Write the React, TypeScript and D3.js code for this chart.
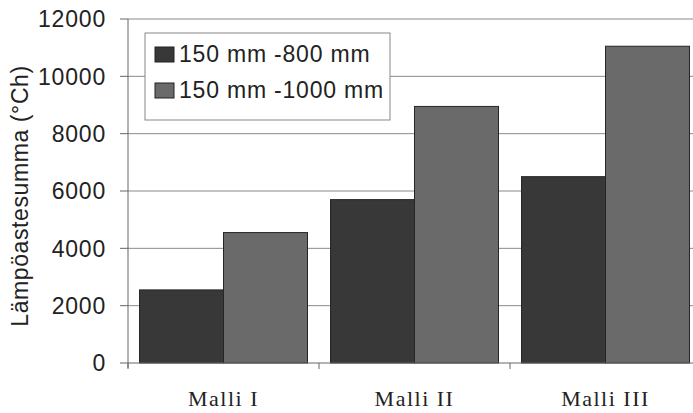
import React from "react";
import * as d3 from "d3";

const categories = ["Malli I", "Malli II", "Malli III"];
const seriesNames = ["150 mm -800 mm", "150 mm -1000 mm"];
const series800 = [2550, 5700, 6500];
const series1000 = [4550, 8950, 11050];
const yTicks = [0, 2000, 4000, 6000, 8000, 10000, 12000];
const yTitle = "Lämpöastesumma (°Ch)";

const W = 693;
const H = 413;
const colors = ["#383838", "#6a6a6a"];

export default function App() {
  const left = 128;
  const right = 701;
  const top = 19;
  const bottom = 363;

  const x = d3.scaleBand<string>().domain(categories).range([left, right]).paddingInner(0).paddingOuter(0);
  const xs = d3.scaleBand<string>().domain(seriesNames).range([0, x.bandwidth()]).paddingInner(0).paddingOuter(0.137);
  const y = d3.scaleLinear().domain([0, 12000]).range([bottom, top]);
  const values = [series800, series1000];
  const sans = "Arial, 'Liberation Sans', Helvetica, sans-serif";
  const serif = "'Times New Roman', 'Liberation Serif', serif";

  const boundaries = categories.map((c) => x(c)!).concat([right]);

  return (
    <svg width={W} height={H} style={{ position: "absolute", left: 0, top: 0, background: "#fff" }}>
      {/* gridlines */}
      {yTicks.filter((t) => t > 0).map((t) => (
        <line key={t} x1={left} x2={W} y1={y(t)} y2={y(t)} stroke="#8a8a8a" strokeWidth={1} />
      ))}
      {/* bars */}
      {categories.map((c, i) =>
        seriesNames.map((s, j) => (
          <rect
            key={c + s}
            x={x(c)! + xs(s)!}
            y={y(values[j][i])}
            width={xs.bandwidth()}
            height={bottom - y(values[j][i])}
            fill={colors[j]}
            stroke="#262626"
            strokeWidth={1}
          />
        ))
      )}
      {/* axes */}
      <line x1={left} x2={left} y1={top} y2={bottom + 5} stroke="#666" strokeWidth={1} />
      <line x1={left} x2={W} y1={bottom} y2={bottom} stroke="#666" strokeWidth={1} />
      {yTicks.map((t) => (
        <g key={"t" + t}>
          <line x1={left - 8} x2={left} y1={y(t)} y2={y(t)} stroke="#666" strokeWidth={1} />
          <text
            x={106}
            y={y(t)}
            dy="0.36em"
            textAnchor="end"
            fontFamily={sans}
            fontSize={23}
            fill="#222"
            letterSpacing={0.8}
          >
            {t}
          </text>
        </g>
      ))}
      {boundaries.map((b, i) => (
        <line key={"b" + i} x1={b} x2={b} y1={bottom} y2={bottom + 6} stroke="#666" strokeWidth={1} />
      ))}
      {categories.map((c) => (
        <text
          key={"c" + c}
          x={x(c)! + x.bandwidth() / 2}
          y={406}
          textAnchor="middle"
          fontFamily={serif}
          fontSize={22}
          fill="#222"
          letterSpacing={1.5}
        >
          {c}
        </text>
      ))}
      <text
        transform={`translate(28, 196) rotate(-90)`}
        textAnchor="middle"
        fontFamily={sans}
        fontSize={23}
        fill="#222"
        letterSpacing={0.6}
      >
        {yTitle}
      </text>
      {/* legend */}
      <rect x={145} y={33} width={245} height={87} fill="#fff" stroke="#888" strokeWidth={1} />
      {seriesNames.map((s, j) => (
        <g key={"l" + s} transform={`translate(155, ${47 + j * 36})`}>
          <rect x={0} y={0} width={19} height={15} fill={colors[j]} stroke="#222" strokeWidth={1} />
          <text x={24} y={15} fontFamily={sans} fontSize={23} fill="#222" letterSpacing={0.8}>
            {s}
          </text>
        </g>
      ))}
    </svg>
  );
}
